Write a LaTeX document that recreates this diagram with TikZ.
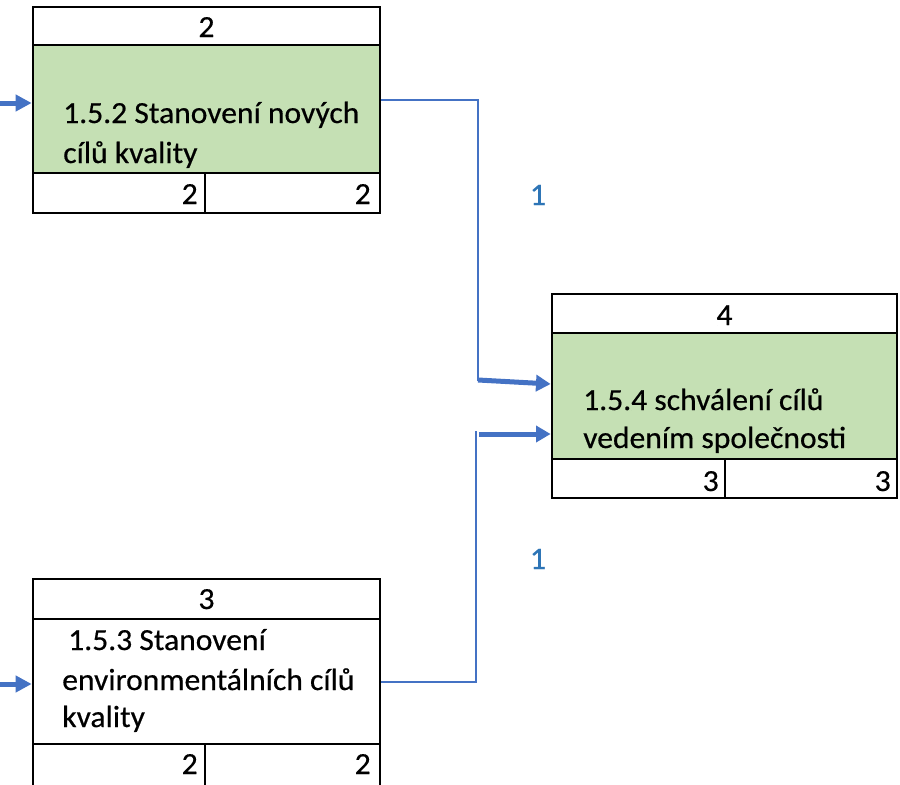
\documentclass[tikz,border=0pt]{standalone}
\usepackage{fontspec}
\setmainfont{Carlito}[FakeStretch=1.03,FakeBold=0.5]
\usetikzlibrary{arrows.meta,fit,calc}
\definecolor{taskgreen}{HTML}{C5E0B4}
\definecolor{linkblue}{HTML}{4472C4}
\definecolor{lagblue}{HTML}{2E75B6}
\begin{document}
\begin{tikzpicture}[x=0.75pt,y=-0.75pt,
  cell/.style={draw=black,line width=2pt,inner sep=0pt},
  body/.style={cell,fill=taskgreen},
  plain/.style={cell,fill=white},
  txt/.style={inner sep=0pt,font=\fontsize{23}{29}\selectfont},
  lag/.style={inner sep=0pt,anchor=base,text=lagblue,font=\fontsize{23.5}{29}\selectfont},
  link/.style={draw=linkblue,line width=1.5pt},
  feed/.style={draw=linkblue,line width=3.75pt,-{Triangle[length=11pt,width=12pt]}}]
\path[use as bounding box,clip] (0,0) rectangle (900,785);

% task 1.5.2
\node[plain,fit={(33,7)(380,45)}] (Ahead) {};
\node[body,fit={(33,45)(380,173)}] (Abody) {};
\node[plain,fit={(33,173)(205,213)}] (Afootl) {};
\node[plain,fit={(205,173)(380,213)}] (Afootr) {};
\node[txt,anchor=base] (Anum) at (206.5,37) {2};
\node[txt,anchor=base west] (Atext1) at (63,123) {1.5.2 Stanovení nových};
\node[txt,anchor=base west] (Atext2) at (63,163) {cílů kvality};
\node[txt,anchor=base east] (Adur) at (198,204) {2};
\node[txt,anchor=base east] (Aslack) at (371,204) {2};

% task 1.5.4
\node[plain,fit={(552,294)(897,333)}] (Dhead) {};
\node[body,fit={(552,333)(897,459)}] (Dbody) {};
\node[plain,fit={(552,459)(725,498)}] (Dfootl) {};
\node[plain,fit={(725,459)(897,498)}] (Dfootr) {};
\node[txt,anchor=base] (Dnum) at (724.5,325) {4};
\node[txt,anchor=base west] (Dtext1) at (583,410) {1.5.4 schválení cílů};
\node[txt,anchor=base west] (Dtext2) at (583,448) {vedením společnosti};
\node[txt,anchor=base east] (Ddur) at (719,491) {3};
\node[txt,anchor=base east] (Dslack) at (891,491) {3};

% task 1.5.3
\node[plain,fit={(33,579)(380,619)}] (Chead) {};
\node[plain,fit={(33,619)(380,744)}] (Cbody) {};
\node[plain,fit={(33,744)(205,800)}] (Cfootl) {};
\node[plain,fit={(205,744)(380,800)}] (Cfootr) {};
\node[txt,anchor=base] (Cnum) at (206.5,609) {3};
\node[txt,anchor=base west] (Ctext1) at (68,650) {1.5.3 Stanovení};
\node[txt,anchor=base west] (Ctext2) at (62,690) {environmentálních cílů};
\node[txt,anchor=base west] (Ctext3) at (62,727) {kvality};
\node[txt,anchor=base east] (Cdur) at (198,774) {2};
\node[txt,anchor=base east] (Cslack) at (371,774) {2};

% incoming links from the left
\coordinate (Ain) at (0,103);
\coordinate (Cin) at (0,684);
\path[feed,-{Triangle[length=12pt,width=12pt]}] (Ain) -- (Ain -| Abody.west);
\path[feed,-{Triangle[length=12pt,width=12pt]}] (Cin) -- (Cin -| Cbody.west);

% links into 1.5.4
\coordinate (Aknee) at (478,100);
\coordinate (Acorner) at (478,381);
\coordinate (Ccorner) at (476,682);
\coordinate (Ctop) at (476,431);
\coordinate (Cstart) at (479,434);
\path[link] (Aknee -| Abody.east) -- (Aknee) -- (Acorner);
\path[feed] (478,380) -- (Dbody.west |- 0,384);
\path[link] (Ccorner -| Cbody.east) -- (Ccorner) -- (Ctop);
\path[feed] (Cstart) -- (Cstart -| Dbody.west);

% lag labels
\node[lag] (lagA) at (538,205) {1};
\node[lag] (lagC) at (538,569) {1};
\end{tikzpicture}
\end{document}
